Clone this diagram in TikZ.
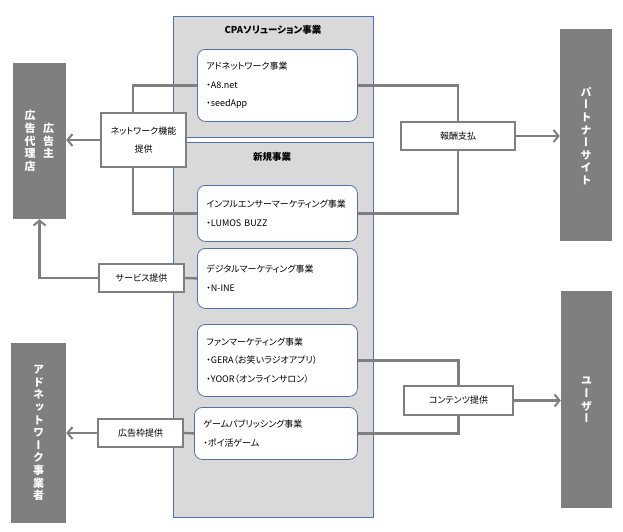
\documentclass[tikz,border=0pt]{standalone}
\usepackage{fontspec}
\setmainfont{Noto Sans CJK JP}[RawFeature=+palt]
\newfontfamily\tatefont{Noto Sans CJK JP}[RawFeature=+vert]
\usepackage{xcolor}
\usetikzlibrary{arrows.meta}
\definecolor{panelgray}{HTML}{D9D9D9}
\definecolor{edgeblue}{HTML}{5172AE}
\definecolor{linegray}{HTML}{7F7F7F}

\begin{document}
\begin{tikzpicture}[
    x=1pt, y=-1pt,
    panel/.style={draw=edgeblue, fill=panelgray, line width=0.8pt, anchor=north west},
    paneltitle/.style={font=\fontsize{9.5}{11}\selectfont\bfseries},
    bizbox/.style={draw=edgeblue, fill=white, rounded corners=8pt, line width=0.8pt, anchor=north west,
        align=left, inner xsep=9pt, inner ysep=0pt, minimum width=160pt, text width=142pt,
        font=\fontsize{9}{18.5}\selectfont},
    lblbox/.style={draw=linegray, fill=white, line width=1.6pt, align=center, inner sep=0pt,
        minimum height=28pt, font=\fontsize{9}{18}\selectfont},
    actor/.style={fill=linegray, draw=none, inner sep=0pt},
    tate/.style={text=white, align=center, inner sep=0pt, font=\tatefont\bfseries\fontsize{11}{12.6}\selectfont},
    conn/.style={draw=linegray, line width=2.4pt},
    tip/.style={conn, -{Straight Barb[length=5pt, width=12pt, line width=2pt]}}
]
\useasboundingbox (0,0) rectangle (623,531);

% panels
\node[panel, minimum width=200pt, minimum height=121pt] (cpa) at (173,16) {};
\node[panel, minimum width=200pt, minimum height=375pt] (newbiz) at (173,142) {};
\node[paneltitle] (cpatitle) at (273,30) {CPAソリューション事業};
\node[paneltitle] (newtitle) at (272,157) {新規事業};

% businesses
\node[bizbox, minimum height=72pt] (adnet) at (197,49) {アドネットワーク事業\\・A8.net\\・seedApp};
\node[bizbox, minimum height=56pt] (influ) at (197,185) {インフルエンサーマーケティング事業\\・LUMOS BUZZ};
\node[bizbox, minimum height=60pt] (digital) at (197,248) {デジタルマーケティング事業\\・N-INE};
\node[bizbox, minimum height=72pt] (fan) at (197,324) {ファンマーケティング事業\\・GERA（お笑いラジオアプリ）\\・YOOR（オンラインサロン）};
\node[bizbox, minimum height=52pt, minimum width=163pt, text width=145pt] (game) at (194,407) {ゲームパブリッシング事業\\・ポイ活ゲーム};

% actors
\node[actor, minimum width=53pt, minimum height=156pt] (adv) at (39.5,141) {};
\node[tate] (advtxt1) at (30,141) {広\\告\\代\\理\\店};
\node[tate] (advtxt2) at (48.5,141) {広\\告\\主};
\node[actor, minimum width=52pt, minimum height=212pt] (partner) at (586,135) {};
\node[tate] (partnertxt) at (586,136) {パ\\ー\\ト\\ナ\\ー\\サ\\イ\\ト};
\node[actor, minimum width=55pt, minimum height=180pt] (adop) at (38.5,433) {};
\node[tate] (adoptxt) at (38.5,433) {ア\\ド\\ネ\\ッ\\ト\\ワ\\ー\\ク\\事\\業\\者};
\node[actor, minimum width=51pt, minimum height=217pt] (user) at (586.5,399.5) {};
\node[tate] (usertxt) at (586.5,400) {ユ\\ー\\ザ\\ー};

% flows
\node[lblbox, minimum width=85pt, minimum height=54pt] (netlbl) at (143.5,140) {ネットワーク機能\\提供};
\node[lblbox, minimum width=114pt] (paylbl) at (458,136) {報酬支払};
\node[lblbox, minimum width=85pt] (svclbl) at (141.5,278) {サービス提供};
\node[lblbox, minimum width=85pt] (slotlbl) at (140.5,433) {広告枠提供};
\node[lblbox, minimum width=109pt, minimum height=29pt] (cntlbl) at (458.5,400.5) {コンテンツ提供};

\draw[conn] (adnet.west) -| ([xshift=-10.5pt]netlbl.north);
\draw[conn] ([xshift=-10.5pt]netlbl.south) |- (influ.west);
\draw[tip] (netlbl.west) -- (netlbl.west -| adv.east);

\draw[conn] (adnet.east) -| (paylbl.north);
\draw[conn] (paylbl.south) |- (influ.east);
\draw[tip] (paylbl.east) -- (paylbl.east -| partner.west);

\draw[conn] (digital.west) -- (svclbl.east);
\draw[tip] (svclbl.west) -| (adv.south);

\draw[conn] (game.west) -- (slotlbl.east);
\draw[tip] (slotlbl.west) -- (slotlbl.west -| adop.east);

\draw[conn] (fan.east) -| (cntlbl.north);
\draw[conn] (cntlbl.south) |- (game.east);
\draw[tip] (cntlbl.east) -- (cntlbl.east -| user.west);
\end{tikzpicture}
\end{document}
